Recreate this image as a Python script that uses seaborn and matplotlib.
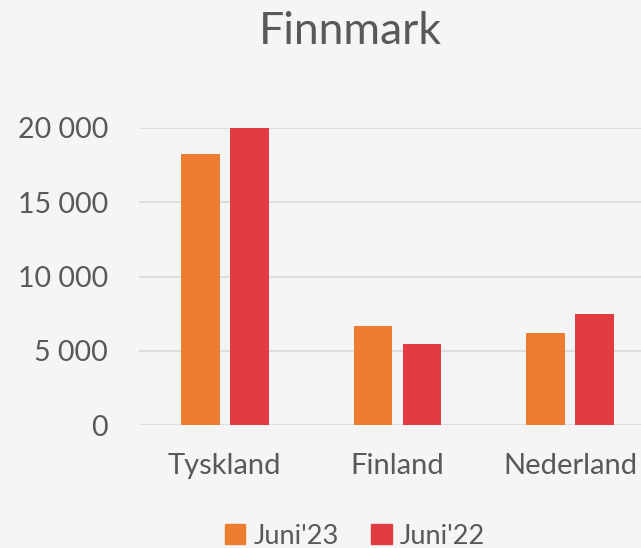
import matplotlib
matplotlib.use("Agg")
import matplotlib.pyplot as plt
import seaborn as sns
import pandas as pd
from matplotlib.ticker import FuncFormatter

countries = ["Tyskland", "Finland", "Nederland"]
series = ["Juni'23", "Juni'22"]
juni23 = [18250, 6650, 6180]
juni22 = [19950, 5480, 7460]
yticks = [0, 5000, 10000, 15000, 20000]

df = pd.DataFrame({
    "land": countries * 2,
    "periode": [series[0]] * 3 + [series[1]] * 3,
    "antall": juni23 + juni22,
})

bg = "#F5F5F5"
grey = "#595959"
palette = {"Juni'23": "#ED7D31", "Juni'22": "#E03C41"}

sns.set_theme(style="white")
plt.rcParams["font.family"] = ["Lato", "DejaVu Sans"]

fig = plt.figure(figsize=(6.41, 5.48), dpi=100, facecolor=bg)
ax = fig.add_axes([138.5 / 641, 122.7 / 548, 517.8 / 641, 297.6 / 548])
ax.set_facecolor(bg)

sns.barplot(data=df, x="land", y="antall", hue="periode", palette=palette,
            width=0.568, gap=0.211, saturation=1, ax=ax, legend=False,
            linewidth=0, edgecolor="none")

ax.set_xlim(-0.5, 2.5)
ax.set_ylim(0, 20000)
ax.set_yticks(yticks)
ax.yaxis.set_major_formatter(FuncFormatter(lambda v, p: f"{int(v):,}".replace(",", " ")))
ax.grid(axis="y", color="#D9D9D9", linewidth=1.2)
ax.set_axisbelow(True)
for s in ax.spines.values():
    s.set_visible(False)
ax.tick_params(axis="y", length=0, pad=22, labelsize=20.5, labelcolor=grey)
ax.tick_params(axis="x", length=0, pad=20, labelsize=21, labelcolor=grey)
ax.set_xlabel("")
ax.set_ylabel("")

fig.text(350 / 641, 1 - 31 / 548, "Finnmark", ha="center", va="center",
         fontsize=32, color=grey)

handles = [plt.Rectangle((0, 0), 1, 1, color=palette[s]) for s in series]
fig.legend(handles, series, loc="center", bbox_to_anchor=(355 / 641, 1 - 536 / 548),
           ncol=2, frameon=False, fontsize=19.5, labelcolor=grey,
           handlelength=0.75, handleheight=0.75, handletextpad=0.3, columnspacing=1.2)

fig.savefig("out.png", dpi=100, facecolor=bg)
